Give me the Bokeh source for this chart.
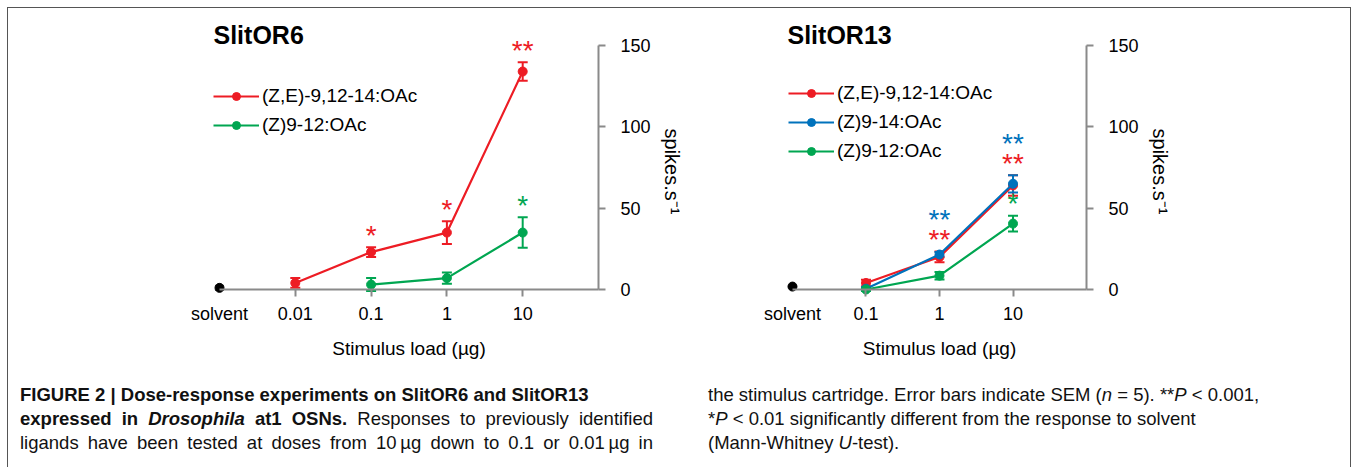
from bokeh.plotting import figure
from bokeh.models import (Range1d, LinearAxis, FixedTicker, Whisker, TeeHead,
                          ColumnDataSource, Legend, LegendItem, Label, Div)
from bokeh.layouts import row, column
from bokeh.embed import file_html
from bokeh.resources import INLINE
from bokeh.core.properties import value

# ---------------- data ----------------
# SlitOR6
doses_or6 = ["solvent", "0.01", "0.1", "1", "10"]
solvent_or6 = 1.0
solvent_or6_sem = 1.3
ze_or6_doses = ["0.01", "0.1", "1", "10"]
ze_or6 = [4.0, 23.0, 35.0, 134.0]
ze_or6_sem = [3.0, 3.0, 7.0, 5.7]
ze_or6_sig = ["", "*", "*", "**"]
z912_or6_doses = ["0.1", "1", "10"]
z912_or6 = [3.0, 7.0, 35.0]
z912_or6_sem = [4.0, 3.5, 9.4]
z912_or6_sig = ["", "", "*"]

# SlitOR13
doses_or13 = ["solvent", "0.1", "1", "10"]
solvent_or13 = 1.8
solvent_or13_sem = 0.4
or13_doses = ["0.1", "1", "10"]
ze_or13 = [4.0, 20.0, 64.0]
ze_or13_sem = [2.0, 3.3, 6.3]
ze_or13_sig = ["", "**", "**"]
z914_or13 = [0.5, 21.5, 65.0]
z914_or13_sem = [1.0, 1.5, 5.3]
z914_or13_sig = ["", "**", "**"]
z912_or13 = [0.0, 8.5, 40.5]
z912_or13_sem = [1.0, 2.3, 4.8]
z912_or13_sig = ["", "", "*"]

y_ticks = [0, 50, 100, 150]
x_title = "Stimulus load (\u00b5g)"
y_title = "spikes.s\u207b\u00b9"

RED = "#ed1c24"
GREEN = "#00a651"
BLUE = "#0072bc"
BLACK = "#000000"
AXIS = "#8a8a8a"
FONT = "Liberation Sans"


def style_text_axis(ax):
    ax.axis_line_color = None
    ax.major_tick_line_color = None
    ax.minor_tick_line_color = None
    ax.major_tick_out = 0
    ax.major_tick_in = 0
    ax.minor_tick_out = 0
    ax.minor_tick_in = 0
    ax.major_label_text_font = FONT
    ax.major_label_text_font_size = "18px"
    ax.major_label_text_color = "black"
    ax.axis_label_text_font = FONT
    ax.axis_label_text_font_style = "normal"
    ax.axis_label_text_color = "black"


def style_line_axis(ax):
    ax.axis_line_color = AXIS
    ax.axis_line_width = 2
    ax.major_tick_line_color = AXIS
    ax.major_tick_line_width = 2
    ax.major_tick_out = 7
    ax.major_tick_in = 0
    ax.minor_tick_out = 0
    ax.minor_tick_in = 0
    ax.major_label_text_font_size = "0px"


def make_panel(title, title_x, doses, solvent, solvent_sem, series, width, x_pad, frame_l,
               frame_r, legend_loc, stack_pairs):
    n = len(doses)
    p = figure(width=width, height=365, x_range=Range1d(-x_pad, n + x_pad),
               y_range=Range1d(-20.29, 165.37),
               x_axis_type=None, y_axis_type=None, toolbar_location=None, output_backend="svg",
               min_border_left=frame_l, min_border_right=width - frame_r,
               min_border_top=12, min_border_bottom=51)
    p.outline_line_color = None
    p.background_fill_color = "white"
    p.border_fill_color = "white"

    # axis line and ticks of the dose axis, drawn at y = 0
    xline = LinearAxis(fixed_location=0, bounds=(0, n),
                       ticker=FixedTicker(ticks=list(range(1, n)), minor_ticks=[]),
                       major_label_overrides={i: "" for i in range(1, n)})
    style_line_axis(xline)
    p.add_layout(xline, "below")
    # dose labels + axis title
    xlab = LinearAxis(ticker=FixedTicker(ticks=list(range(n)), minor_ticks=[]),
                      major_label_overrides={i: d for i, d in enumerate(doses)})
    style_text_axis(xlab)
    xlab.major_label_standoff = -19
    xlab.axis_label = x_title
    xlab.axis_label_text_font_size = "19px"
    xlab.axis_label_standoff = 11
    p.add_layout(xlab, "below")

    # response axis (line + ticks) on the right at the end of the dose axis
    yline = LinearAxis(fixed_location=n, bounds=(0, 150),
                       ticker=FixedTicker(ticks=y_ticks, minor_ticks=[]),
                       major_label_overrides={t: "" for t in y_ticks})
    style_line_axis(yline)
    p.add_layout(yline, "right")
    ylab = LinearAxis(ticker=FixedTicker(ticks=y_ticks, minor_ticks=[]))
    style_text_axis(ylab)
    ylab.major_label_standoff = 22 - round(x_pad * (frame_r - frame_l) / (n + 2 * x_pad))
    ylab.axis_label = y_title
    ylab.axis_label_text_font_size = "20px"
    ylab.axis_label_standoff = 7
    p.add_layout(ylab, "right")

    # solvent control
    ssrc = ColumnDataSource(dict(x=[0], y=[solvent], lo=[solvent - solvent_sem],
                                 hi=[solvent + solvent_sem]))
    p.add_layout(Whisker(base="x", lower="lo", upper="hi", source=ssrc, line_color=BLACK,
                         line_width=2,
                         upper_head=TeeHead(size=8, line_color=BLACK, line_width=2),
                         lower_head=TeeHead(size=8, line_color=BLACK, line_width=2)))
    p.scatter("x", "y", source=ssrc, size=9, marker="circle", fill_color=BLACK, line_color=BLACK)

    items = []
    tops = {}
    for key, label, color, sdoses, vals, sems, sig in series:
        xs = [doses.index(d) for d in sdoses]
        src = ColumnDataSource(dict(x=xs, y=vals,
                                    lo=[v - s for v, s in zip(vals, sems)],
                                    hi=[v + s for v, s in zip(vals, sems)]))
        p.add_layout(Whisker(base="x", lower="lo", upper="hi", source=src, line_color=color,
                             line_width=2,
                             upper_head=TeeHead(size=10, line_color=color, line_width=2),
                             lower_head=TeeHead(size=10, line_color=color, line_width=2)))
        lr = p.line("x", "y", source=src, line_color=color, line_width=2.2)
        sr = p.scatter("x", "y", source=src, size=9, marker="circle", fill_color=color,
                       line_color=color)
        items.append(LegendItem(label=label, renderers=[lr, sr]))
        tops[key] = dict(zip(xs, [v + s for v, s in zip(vals, sems)]))

    # significance marks above the error bars
    for key, label, color, sdoses, vals, sems, sig in series:
        xs = [doses.index(d) for d in sdoses]
        tx, ty, tt, to = [], [], [], []
        for x, s in zip(xs, sig):
            if not s:
                continue
            level = 0
            anchor = tops[key][x]
            for base_key, upper_key in stack_pairs:
                if key in (base_key, upper_key):
                    anchor = max(tops[base_key][x], tops[upper_key][x])
                    level = 1 if key == upper_key else 0
            tx.append(x)
            ty.append(anchor)
            tt.append(s)
            to.append(-12 - 20 * level)
        if tx:
            tsrc = ColumnDataSource(dict(x=tx, y=ty, t=tt, o=to))
            p.text("x", "y", text="t", source=tsrc, y_offset="o", text_color=color,
                   text_font=value(FONT), text_font_size="28px", text_align="center",
                   text_baseline="middle")

    legend = Legend(items=items, location=legend_loc, glyph_width=46, glyph_height=20,
                    label_height=20, spacing=7, padding=0, margin=0, label_standoff=3,
                    border_line_color=None, background_fill_alpha=0,
                    label_text_font=FONT, label_text_font_size="19px",
                    label_text_color="black")
    p.add_layout(legend)

    p.add_layout(Label(x=title_x, y=287.5, x_units="screen", y_units="screen", text=title,
                       text_font=FONT, text_font_style="bold", text_font_size="25px",
                       text_baseline="middle", text_color="black"))
    return p


p1 = make_panel("SlitOR6", 35, doses_or6, solvent_or6, solvent_or6_sem,
                [("ze", "(Z,E)-9,12-14:OAc", RED, ze_or6_doses, ze_or6, ze_or6_sem, ze_or6_sig),
                 ("z912", "(Z)9-12:OAc", GREEN, z912_or6_doses, z912_or6, z912_or6_sem,
                  z912_or6_sig)],
                width=692, x_pad=0.541, frame_l=170, frame_r=631, legend_loc=(35, 186),
                stack_pairs=[])

p2 = make_panel("SlitOR13", 27, doses_or13, solvent_or13, solvent_or13_sem,
                [("ze", "(Z,E)-9,12-14:OAc", RED, or13_doses, ze_or13, ze_or13_sem, ze_or13_sig),
                 ("z914", "(Z)9-14:OAc", BLUE, or13_doses, z914_or13, z914_or13_sem,
                  z914_or13_sig),
                 ("z912", "(Z)9-12:OAc", GREEN, or13_doses, z912_or13, z912_or13_sem,
                  z912_or13_sig)],
                width=650, x_pad=0.435, frame_l=60, frame_r=418, legend_loc=(28, 160),
                stack_pairs=[("ze", "z914")])

base = ("font-family:'Liberation Sans',Arial,sans-serif;font-size:18.5px;"
        "line-height:24px;color:#111;white-space:nowrap;")
just = "text-align:justify;text-align-last:justify;width:633px;"
left_html = (f"<div style=\"{base}padding-top:10px;padding-left:12px;\">"
             "<div><b>FIGURE 2 | Dose-response experiments on SlitOR6 and SlitOR13</b></div>"
             f"<div style=\"{just}\"><b>expressed in <i>Drosophila</i> at1 OSNs.</b> "
             "Responses to previously identified</div>"
             f"<div style=\"{just}\">ligands have been tested at doses from 10&#8201;\u00b5g "
             "down to 0.1 or 0.01&#8201;\u00b5g in</div>"
             "</div>")
right_html = (f"<div style=\"{base}padding-top:10px;padding-left:8px;\">"
              "<div>the stimulus cartridge. Error bars indicate SEM (<i>n</i> = 5). "
              "**<i>P</i> &lt; 0.001,</div>"
              "<div>*<i>P</i> &lt; 0.01 significantly different from the response to solvent</div>"
              "<div>(Mann-Whitney <i>U</i>-test).</div>"
              "</div>")
d1 = Div(text=left_html, width=692, height=94, margin=(0, 0, 0, 0))
d2 = Div(text=right_html, width=650, height=94, margin=(0, 0, 0, 0))

layout = column(row(p1, p2), row(d1, d2),
                styles={"border": "1px solid #555555", "border-bottom": "none",
                        "margin-left": "7px", "margin-top": "7px"})

open("out.html", "w").write(file_html(layout, INLINE))
